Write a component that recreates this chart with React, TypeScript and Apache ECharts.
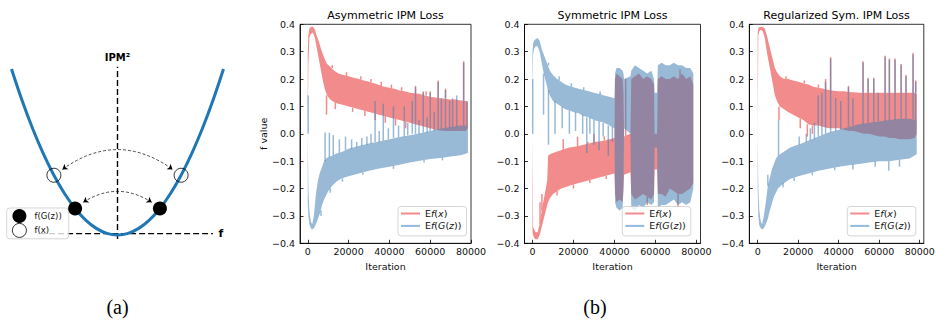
import React, { useEffect, useRef } from 'react';
import * as echarts from 'echarts';

const FONT = 'DejaVu Sans';
const RED = '#f28b8b';
const BLUE = '#4682b4';
const BLUE_A = 0.55;
const BLUE_LEGEND = '#92bbde';

// ---------- Panel (a) schematic (unit coords) ----------
const PARA_U = [-1, -0.9, -0.8, -0.7, -0.6, -0.5, -0.4, -0.3, -0.2, -0.1, 0, 0.1, 0.2, 0.3, 0.4, 0.5, 0.6, 0.7, 0.8, 0.9, 1];
const PARA_V = [1, 0.81, 0.64, 0.49, 0.36, 0.25, 0.16, 0.09, 0.04, 0.01, 0, 0.01, 0.04, 0.09, 0.16, 0.25, 0.36, 0.49, 0.64, 0.81, 1];
const FILLED_PTS = [[-0.4, 0.16], [0.4, 0.16]];
const OPEN_PTS = [[-0.6, 0.36], [0.6, 0.36]];
const V_AXIS = [[0, -0.024], [0, 1.014]];
const H_AXIS = [[-0.73, 0.008], [0.9, 0.008]];
const ARC_OUTER = [[-0.52, 0.395], [0.52, 0.395]];
const ARC_INNER = [[-0.323, 0.197], [0.323, 0.197]];

// ---------- Panel (b) ticks ----------
const X_TICKS = [0, 20000, 40000, 60000, 80000];

// ---------- Asymmetric IPM Loss ----------
const A_rIt = [0, 300, 800, 1500, 2500, 3500, 4500, 5500, 6500, 7500, 8500, 9500, 11000, 13000, 15000, 17500, 20000, 22500, 25000, 27500, 30000, 32500, 35000, 37500, 40000, 42500, 45000, 47500, 50000, 52500, 55000, 57500, 60000, 62500, 65000, 67500, 70000, 72500, 75000, 77500, 78500];
const A_redHi = [0.30, 0.36, 0.385, 0.39, 0.392, 0.38, 0.355, 0.335, 0.31, 0.29, 0.27, 0.255, 0.245, 0.23, 0.22, 0.215, 0.21, 0.205, 0.2, 0.195, 0.19, 0.185, 0.178, 0.172, 0.168, 0.165, 0.158, 0.155, 0.15, 0.148, 0.145, 0.14, 0.135, 0.133, 0.13, 0.128, 0.125, 0.125, 0.122, 0.12, 0.115];
const A_redLo = [0.03, 0.25, 0.35, 0.365, 0.37, 0.35, 0.31, 0.27, 0.23, 0.19, 0.16, 0.14, 0.125, 0.115, 0.11, 0.105, 0.1, 0.095, 0.09, 0.085, 0.08, 0.075, 0.07, 0.065, 0.06, 0.055, 0.05, 0.045, 0.04, 0.035, 0.03, 0.025, 0.02, 0.015, 0.012, 0.01, 0.01, 0.01, 0.01, 0.01, 0.02];
const A_bIt = [0, 300, 800, 1500, 2200, 3000, 4000, 5000, 6000, 7000, 8000, 9000, 10000, 12000, 14000, 16000, 18000, 20000, 25000, 30000, 35000, 40000, 45000, 50000, 55000, 60000, 65000, 70000, 75000, 78500];
const A_blueHi = [0.0, -0.2, -0.28, -0.32, -0.33, -0.3, -0.22, -0.17, -0.14, -0.12, -0.1, -0.09, -0.085, -0.08, -0.072, -0.068, -0.062, -0.055, -0.045, -0.035, -0.028, -0.02, -0.012, -0.005, 0.002, 0.01, 0.018, 0.025, 0.03, 0.03];
const A_blueLo = [-0.25, -0.3, -0.33, -0.345, -0.35, -0.345, -0.33, -0.31, -0.29, -0.26, -0.24, -0.225, -0.21, -0.19, -0.175, -0.165, -0.16, -0.155, -0.145, -0.135, -0.127, -0.12, -0.113, -0.105, -0.098, -0.092, -0.088, -0.083, -0.078, -0.07];
const A_blueSpikes = [[200, 0.0, 0.14], [8500, -0.1, 0.005], [10600, -0.085, 0.004], [12500, -0.08, -0.005], [15500, -0.07, -0.02], [18500, -0.06, -0.01], [21500, -0.055, -0.02], [24000, -0.05, -0.03], [26500, -0.045, -0.015], [29000, -0.04, -0.01], [31000, -0.035, 0.0], [33000, -0.03, 0.12], [35000, -0.03, 0.01], [37000, -0.025, 0.11], [39500, -0.02, 0.02], [42000, -0.015, 0.10], [44500, -0.012, 0.03], [47300, -0.01, 0.10], [49000, -0.005, 0.04], [51200, 0.0, 0.12], [52800, 0.0, 0.17], [54500, 0.0, 0.05], [56600, 0.005, 0.15], [58500, 0.005, 0.06], [60000, 0.01, 0.15], [62000, 0.01, 0.08], [63900, 0.015, 0.19], [65500, 0.015, 0.13], [67500, 0.02, 0.16], [69500, 0.02, 0.12], [71000, 0.025, 0.13], [73000, 0.025, 0.14], [76400, 0.03, 0.26], [78000, 0.03, 0.12], [6500, -0.28, -0.3], [11000, -0.2, -0.215], [17000, -0.163, -0.175], [27000, -0.141, -0.15], [42000, -0.117, -0.128], [57000, -0.096, -0.105], [66000, -0.087, -0.097]];
const A_redSpikes = [[52800, 0.145, 0.175], [56600, 0.14, 0.155], [60000, 0.135, 0.155], [63900, 0.13, 0.195], [67500, 0.13, 0.165], [76400, 0.12, 0.265], [9200, 0.14, 0.07], [13500, 0.115, 0.09], [22000, 0.095, 0.08], [28000, 0.085, 0.065], [33000, 0.075, 0.05], [38000, 0.065, 0.04], [43000, 0.055, 0.03], [48000, 0.045, 0.02], [12000, 0.24, 0.25], [19000, 0.21, 0.225], [26000, 0.197, 0.21], [31000, 0.188, 0.2], [36000, 0.175, 0.19], [41000, 0.167, 0.18], [46000, 0.157, 0.17], [58000, 0.14, 0.155]];

// ---------- Symmetric IPM Loss ----------
const S_rIt = [0, 300, 800, 1500, 2500, 3500, 4500, 5500, 6500, 7200, 7600, 8500, 10000, 12000, 14000, 16000, 18000, 20000, 22500, 25000, 27500, 30000, 32500, 35000, 37500, 40000, 40300, 41000, 42500, 44000, 44400, 44700, 47800, 48200, 50000, 52000, 54000, 56000, 58000, 59300, 59600, 60800, 61200, 63000, 65000, 67000, 69000, 71000, 73000, 75000, 77000, 78500];
const S_redLo = [-0.36, -0.37, -0.38, -0.385, -0.385, -0.37, -0.34, -0.31, -0.28, -0.26, -0.25, -0.235, -0.22, -0.21, -0.2, -0.195, -0.19, -0.185, -0.18, -0.175, -0.17, -0.165, -0.16, -0.155, -0.15, -0.145, -0.22, -0.25, -0.24, -0.25, -0.2, -0.15, -0.14, -0.22, -0.24, -0.23, -0.22, -0.23, -0.24, -0.22, -0.13, -0.13, -0.22, -0.22, -0.23, -0.2, -0.21, -0.22, -0.22, -0.21, -0.2, -0.18];
const S_redHi = [0.0, -0.34, -0.35, -0.36, -0.36, -0.33, -0.28, -0.24, -0.2, -0.17, -0.08, -0.075, -0.07, -0.065, -0.06, -0.055, -0.05, -0.048, -0.045, -0.04, -0.035, -0.03, -0.028, -0.025, -0.02, -0.015, 0.2, 0.22, 0.21, 0.2, 0.15, -0.01, 0.0, 0.2, 0.21, 0.22, 0.2, 0.21, 0.2, 0.18, 0.0, 0.0, 0.2, 0.21, 0.2, 0.2, 0.21, 0.2, 0.22, 0.2, 0.21, 0.18];
const S_bIt = [0, 300, 800, 1500, 2500, 3500, 4500, 5500, 6500, 7500, 8500, 10000, 12000, 14000, 16000, 18000, 20000, 22500, 25000, 27500, 30000, 32500, 35000, 37500, 40000, 40300, 41000, 42500, 44000, 44400, 44700, 47800, 48200, 50000, 52000, 54000, 56000, 58000, 59300, 59600, 60800, 61200, 63000, 65000, 67000, 69000, 71000, 73000, 75000, 77000, 78500];
const S_blueHi = [0.30, 0.33, 0.34, 0.345, 0.35, 0.34, 0.31, 0.29, 0.27, 0.25, 0.23, 0.215, 0.2, 0.19, 0.18, 0.175, 0.17, 0.165, 0.16, 0.155, 0.15, 0.145, 0.14, 0.135, 0.13, 0.22, 0.24, 0.24, 0.23, 0.22, 0.2, 0.21, 0.23, 0.25, 0.24, 0.23, 0.22, 0.23, 0.2, 0.15, 0.15, 0.25, 0.26, 0.25, 0.25, 0.26, 0.25, 0.25, 0.24, 0.24, 0.22];
const S_blueLo = [0.15, 0.29, 0.31, 0.32, 0.32, 0.3, 0.26, 0.22, 0.19, 0.16, 0.14, 0.12, 0.11, 0.1, 0.09, 0.085, 0.08, 0.075, 0.065, 0.06, 0.05, 0.045, 0.04, 0.03, 0.02, -0.25, -0.27, -0.28, -0.27, -0.2, 0.02, 0.0, -0.27, -0.28, -0.26, -0.27, -0.25, -0.26, -0.25, -0.05, -0.05, -0.27, -0.26, -0.26, -0.25, -0.24, -0.26, -0.25, -0.26, -0.25, -0.2];
const S_blueSpikes = [[100, 0.0, 0.2], [5400, 0.22, 0.07], [7800, 0.16, -0.04], [11000, 0.12, 0.0], [14500, 0.1, 0.02], [18000, 0.085, 0.0], [21000, 0.08, 0.01], [24500, 0.07, 0.0], [26500, 0.06, -0.07], [28000, 0.06, 0.0], [30000, 0.05, -0.04], [32500, 0.045, -0.06], [34500, 0.04, -0.01], [37000, 0.03, -0.08], [39000, 0.025, -0.03], [7800, 0.25, 0.26], [13000, 0.195, 0.21], [19000, 0.172, 0.185], [25000, 0.16, 0.17], [33000, 0.143, 0.155]];
const S_redSpikes = [[3700, -0.33, -0.25], [4600, -0.28, -0.22], [15000, -0.06, -0.02], [22000, -0.048, -0.01], [27000, -0.04, -0.03], [30000, -0.03, 0.0], [35000, -0.025, -0.01], [45500, -0.01, 0.2], [56000, -0.23, -0.26], [71000, -0.22, -0.27], [72000, 0.2, 0.235], [12000, -0.21, -0.225], [20000, -0.185, -0.2], [28000, -0.168, -0.18], [36000, -0.153, -0.165]];

// ---------- Regularized Sym. IPM Loss ----------
const R_rIt = [0, 300, 800, 1500, 2500, 3500, 4500, 5500, 6500, 7500, 8500, 9500, 11000, 13000, 15000, 17500, 20000, 22500, 25000, 27500, 30000, 32500, 35000, 37500, 40000, 42500, 45000, 47500, 50000, 52500, 55000, 57500, 60000, 62500, 65000, 67500, 70000, 72500, 75000, 77500, 78500];
const R_redHi = [0.37, 0.385, 0.39, 0.39, 0.39, 0.385, 0.36, 0.33, 0.3, 0.27, 0.24, 0.225, 0.21, 0.2, 0.2, 0.195, 0.19, 0.185, 0.18, 0.172, 0.168, 0.165, 0.16, 0.157, 0.155, 0.155, 0.153, 0.152, 0.15, 0.15, 0.15, 0.15, 0.15, 0.15, 0.15, 0.15, 0.15, 0.15, 0.15, 0.15, 0.145];
const R_redLo = [0.0, 0.36, 0.375, 0.38, 0.375, 0.35, 0.3, 0.26, 0.22, 0.18, 0.14, 0.12, 0.1, 0.09, 0.08, 0.07, 0.06, 0.05, 0.035, 0.03, 0.03, 0.025, 0.02, 0.02, 0.02, 0.015, 0.01, 0.01, 0.005, 0.0, 0.0, -0.005, -0.01, -0.01, -0.015, -0.015, -0.02, -0.02, -0.02, -0.015, 0.0];
const R_bIt = [0, 300, 800, 1500, 2200, 3000, 4000, 5000, 6000, 7000, 8000, 9000, 10000, 12000, 14000, 16000, 18000, 20000, 25000, 30000, 35000, 40000, 45000, 50000, 55000, 60000, 65000, 70000, 75000, 78500];
const R_blueHi = [0.0, -0.2, -0.28, -0.32, -0.33, -0.3, -0.25, -0.19, -0.16, -0.13, -0.11, -0.09, -0.08, -0.07, -0.06, -0.05, -0.045, -0.04, -0.025, -0.01, 0.005, 0.015, 0.025, 0.035, 0.04, 0.045, 0.05, 0.055, 0.055, 0.05];
const R_blueLo = [-0.2, -0.3, -0.335, -0.345, -0.35, -0.345, -0.33, -0.31, -0.28, -0.255, -0.23, -0.215, -0.2, -0.185, -0.175, -0.165, -0.16, -0.155, -0.145, -0.135, -0.128, -0.12, -0.115, -0.11, -0.105, -0.1, -0.1, -0.095, -0.09, -0.075];
const R_blueSpikes = [[5000, -0.19, -0.15], [10300, -0.08, 0.05], [20500, -0.04, -0.01], [24000, -0.03, 0.0], [26000, -0.025, 0.02], [28000, -0.02, 0.04], [29900, -0.01, 0.14], [31700, -0.005, 0.15], [33500, 0.0, 0.19], [36000, 0.005, 0.275], [38500, 0.01, 0.13], [41000, 0.015, 0.12], [44800, 0.025, 0.17], [47000, 0.03, 0.13], [52000, 0.035, 0.26], [54500, 0.04, 0.2], [57300, 0.04, 0.2], [59500, 0.045, 0.15], [62900, 0.045, 0.28], [65000, 0.05, 0.27], [67800, 0.05, 0.27], [70800, 0.055, 0.25], [73200, 0.055, 0.21], [76700, 0.055, 0.29], [78000, 0.05, 0.19], [47000, -0.11, -0.13], [58000, -0.1, -0.12], [64700, -0.1, -0.135], [70000, -0.095, -0.12], [12500, -0.18, -0.195], [18000, -0.16, -0.172], [27000, -0.141, -0.152], [38000, -0.123, -0.133]];
const R_redSpikes = [[10500, 0.1, 0.05], [24500, 0.035, -0.01], [21000, 0.055, 0.02], [27000, 0.03, 0.0], [33500, 0.16, 0.2], [36000, 0.155, 0.28], [44800, 0.15, 0.175], [52000, 0.15, 0.265], [54500, 0.15, 0.205], [57300, 0.15, 0.205], [62900, 0.15, 0.285], [65000, 0.15, 0.275], [67800, 0.15, 0.275], [70800, 0.15, 0.255], [73200, 0.15, 0.215], [76700, 0.15, 0.295], [78000, 0.15, 0.195], [14000, 0.2, 0.21], [23000, 0.184, 0.195], [30000, 0.168, 0.18]];

const TITLES = ['Asymmetric IPM Loss', 'Symmetric IPM Loss', 'Regularized Sym. IPM Loss'];
const NAME_FX = 'Ef(x)';
const NAME_FG = 'Ef(G(z))';

// ---------- layout ----------
const PLOT_GRIDS = [
  { left: 300, top: 24.3, width: 171, height: 219 },
  { left: 524.5, top: 24.3, width: 176, height: 219 },
  { left: 749.3, top: 24.3, width: 174.5, height: 219 },
];
const X_RANGES = [[-3800, 80000], [-3900, 82000], [-4150, 82000]];
const LEGEND_LEFT = [398, 622.3, 847.3];

const zip = (it: number[], lo: number[], hi: number[]) => it.map((x, i) => [x, lo[i], hi[i]]);

function band(name: string, gi: number, rows: number[][], color: string, opacity: number, z: number) {
  return {
    type: 'custom', name, xAxisIndex: gi, yAxisIndex: gi, coordinateSystem: 'cartesian2d',
    data: rows, encode: { x: 0, y: [1, 2] }, z, silent: true,
    itemStyle: { color },
    renderItem: (params: any, api: any) => {
      if (params.dataIndex !== 0) return null;
      const top = rows.map((d) => api.coord([d[0], d[2]]));
      const bot = rows.map((d) => api.coord([d[0], d[1]])).reverse();
      return { type: 'polygon', shape: { points: top.concat(bot) }, style: { fill: color, opacity } };
    },
  };
}

function spikes(name: string, gi: number, rows: number[][], color: string, opacity: number, z: number) {
  return {
    type: 'custom', name, xAxisIndex: gi, yAxisIndex: gi, coordinateSystem: 'cartesian2d',
    data: rows, encode: { x: 0, y: [1, 2] }, z, silent: true,
    itemStyle: { color },
    renderItem: (params: any, api: any) => {
      const p1 = api.coord([api.value(0), api.value(1)]);
      const p2 = api.coord([api.value(0), api.value(2)]);
      return { type: 'line', shape: { x1: p1[0], y1: p1[1], x2: p2[0], y2: p2[1] }, style: { stroke: color, lineWidth: 1.5, opacity } };
    },
  };
}

const yFmt = (v: number) => (v < -1e-9 ? '\u2212' : '') + Math.abs(v).toFixed(1);
const tickText = { color: '#111', fontSize: 9.5, fontFamily: FONT };

const legendRich = {
  n: { fontFamily: FONT, fontSize: 9.5, color: '#111', lineHeight: 12 },
  i: { fontFamily: FONT, fontStyle: 'italic', fontSize: 9.5, color: '#111', lineHeight: 12 },
};
const legendFmt = (name: string) =>
  name === NAME_FX ? '{n|E}{i|f}{n|(}{i|x}{n|)}' : '{n|E}{i|f}{n|(}{i|G}{n|(}{i|z}{n|))}';

function buildOption() {
  const series: any[] = [];
  const dataSets = [
    { r: zip(A_rIt, A_redLo, A_redHi), b: zip(A_bIt, A_blueLo, A_blueHi), rs: A_redSpikes, bs: A_blueSpikes },
    { r: zip(S_rIt, S_redLo, S_redHi), b: zip(S_bIt, S_blueLo, S_blueHi), rs: S_redSpikes, bs: S_blueSpikes },
    { r: zip(R_rIt, R_redLo, R_redHi), b: zip(R_bIt, R_blueLo, R_blueHi), rs: R_redSpikes, bs: R_blueSpikes },
  ];
  dataSets.forEach((d, gi) => {
    series.push(band(NAME_FX, gi, d.r, RED, 1, 2));
    series.push(spikes(NAME_FX, gi, d.rs, RED, 1, 2));
    series.push(band(NAME_FG, gi, d.b, BLUE, BLUE_A, 3));
    series.push(spikes(NAME_FG, gi, d.bs, BLUE, BLUE_A, 3));
  });

  // panel (a)
  const ga = 3;
  series.push({
    type: 'line', xAxisIndex: ga, yAxisIndex: ga, data: V_AXIS, symbol: 'none', silent: true, z: 2,
    lineStyle: { color: '#000', width: 1.4, type: [6, 3] },
  });
  series.push({
    type: 'line', xAxisIndex: ga, yAxisIndex: ga, data: H_AXIS, symbol: 'none', silent: true, z: 2,
    lineStyle: { color: '#000', width: 1.4, type: [6, 3] },
  });
  series.push({
    type: 'line', xAxisIndex: ga, yAxisIndex: ga, data: PARA_U.map((u, i) => [u, PARA_V[i]]), symbol: 'none',
    smooth: 0.4, silent: true, z: 3, lineStyle: { color: '#1f77b4', width: 3 },
  });
  series.push({
    type: 'lines', coordinateSystem: 'cartesian2d', xAxisIndex: ga, yAxisIndex: ga, silent: true, z: 4,
    symbol: ['arrow', 'arrow'], symbolSize: 5,
    lineStyle: { color: '#000', width: 0.7, type: [3, 2], curveness: 0.36, opacity: 1 },
    data: [{ coords: ARC_OUTER }],
  });
  series.push({
    type: 'lines', coordinateSystem: 'cartesian2d', xAxisIndex: ga, yAxisIndex: ga, silent: true, z: 4,
    symbol: ['arrow', 'arrow'], symbolSize: 5,
    lineStyle: { color: '#000', width: 0.7, type: [3, 2], curveness: 0.32, opacity: 1 },
    data: [{ coords: ARC_INNER }],
  });
  series.push({
    type: 'scatter', name: 'f(G(z))', xAxisIndex: ga, yAxisIndex: ga, data: FILLED_PTS, symbolSize: 14, z: 5, silent: true,
    itemStyle: { color: '#000', opacity: 1 },
  });
  series.push({
    type: 'scatter', name: 'f(x)', xAxisIndex: ga, yAxisIndex: ga, data: OPEN_PTS, symbolSize: 14, z: 5, silent: true,
    itemStyle: { color: 'rgba(255,255,255,0)', borderColor: '#000', borderWidth: 0.8, opacity: 1 },
  });

  const grid: any[] = PLOT_GRIDS.map((g) => ({
    ...g, show: true, borderColor: '#000', borderWidth: 0.8, backgroundColor: 'rgba(0,0,0,0)', containLabel: false, outerBoundsMode: 'none',
  }));
  grid.push({ left: 11.5, top: 52.4, width: 212, height: 199.2, show: false, containLabel: false, outerBoundsMode: 'none' });

  const xAxis: any[] = PLOT_GRIDS.map((_, gi) => ({
    gridIndex: gi, type: 'value', min: X_RANGES[gi][0], max: X_RANGES[gi][1],
    axisLine: { show: true, onZero: false, lineStyle: { color: '#000', width: 0.8 } },
    axisTick: { show: true, inside: true, length: 3.5, customValues: X_TICKS, lineStyle: { color: '#000', width: 0.8 } },
    axisLabel: { ...tickText, margin: 3, customValues: X_TICKS, formatter: (v: number) => String(v) },
    splitLine: { show: false },
    name: 'Iteration', nameLocation: 'middle', nameGap: 13,
    nameTextStyle: { color: '#111', fontSize: 9.5, fontFamily: FONT },
  }));
  xAxis.push({ gridIndex: 3, type: 'value', min: -1, max: 1, show: false });

  const yAxis: any[] = PLOT_GRIDS.map((_, gi) => ({
    gridIndex: gi, type: 'value', min: -0.4, max: 0.4, interval: 0.1,
    axisLine: { show: true, onZero: false, lineStyle: { color: '#000', width: 0.8 } },
    axisTick: { show: true, inside: true, length: 3.5, lineStyle: { color: '#000', width: 0.8 } },
    axisLabel: { ...tickText, margin: 5, formatter: yFmt },
    splitLine: { show: false },
    name: gi === 0 ? 'f value' : '', nameLocation: 'middle', nameGap: 29, nameRotate: 90,
    nameTextStyle: { color: '#111', fontSize: 9.5, fontFamily: FONT },
  }));
  yAxis.push({ gridIndex: 3, type: 'value', min: -0.1, max: 1.1, show: false });

  const legend: any[] = LEGEND_LEFT.map((left) => ({
    orient: 'vertical', left, top: 206.5, padding: [2, 5, 5, 3], itemWidth: 19, itemHeight: 2, itemGap: 2.4,
    backgroundColor: 'rgba(255,255,255,0.8)', borderColor: '#cccccc', borderWidth: 0.8, borderRadius: 3,
    selectedMode: false,
    data: [
      { name: NAME_FX, icon: 'rect', itemStyle: { color: RED } },
      { name: NAME_FG, icon: 'rect', itemStyle: { color: BLUE_LEGEND } },
    ],
    formatter: legendFmt,
    textStyle: { rich: legendRich },
  }));
  legend.push({
    orient: 'vertical', left: 6.7, top: 208, padding: [1, 7, 1, 5.3], itemWidth: 14, itemHeight: 14, itemGap: 0,
    backgroundColor: 'rgba(255,255,255,0.8)', borderColor: '#cccccc', borderWidth: 0.8, borderRadius: 3,
    selectedMode: false,
    data: [
      { name: 'f(G(z))', icon: 'circle', itemStyle: { color: '#000' } },
      { name: 'f(x)', icon: 'circle', itemStyle: { color: 'rgba(255,255,255,0)', borderColor: '#000', borderWidth: 0.8 } },
    ],
    textStyle: { fontFamily: FONT, fontSize: 8.5, color: '#111', padding: [0, 0, 0, 3] },
  });

  const graphic: any[] = PLOT_GRIDS.map((g, gi) => ({
    type: 'text', x: g.left + g.width / 2, y: 15,
    style: { text: TITLES[gi], fontFamily: FONT, fontSize: 11, fill: '#000', align: 'center', verticalAlign: 'middle' },
  }));
  graphic.push(
    { type: 'text', x: 117.5, y: 57, style: { text: 'IPM\u00b2', fontFamily: FONT, fontWeight: 'bold', fontSize: 10, fill: '#000', align: 'center', verticalAlign: 'middle' } },
    { type: 'text', x: 221, y: 233.5, style: { text: 'f', fontFamily: FONT, fontWeight: 'bold', fontSize: 11, fill: '#000', align: 'center', verticalAlign: 'middle' } },
    { type: 'text', x: 117.5, y: 307, style: { text: '(a)', fontFamily: 'Liberation Serif', fontSize: 20, fill: '#000', align: 'center', verticalAlign: 'middle' } },
    { type: 'text', x: 595, y: 307, style: { text: '(b)', fontFamily: 'Liberation Serif', fontSize: 20, fill: '#000', align: 'center', verticalAlign: 'middle' } },
  );

  return { animation: false, backgroundColor: '#fff', grid, xAxis, yAxis, legend, graphic, series };
}

export default function App() {
  const ref = useRef<HTMLDivElement>(null);
  useEffect(() => {
    const chart = echarts.init(ref.current as HTMLDivElement, null, { renderer: 'svg' });
    chart.setOption(buildOption() as any);
    return () => chart.dispose();
  }, []);
  return <div ref={ref} style={{ position: 'absolute', left: 0, top: 0, width: 936, height: 320 }} />;
}
